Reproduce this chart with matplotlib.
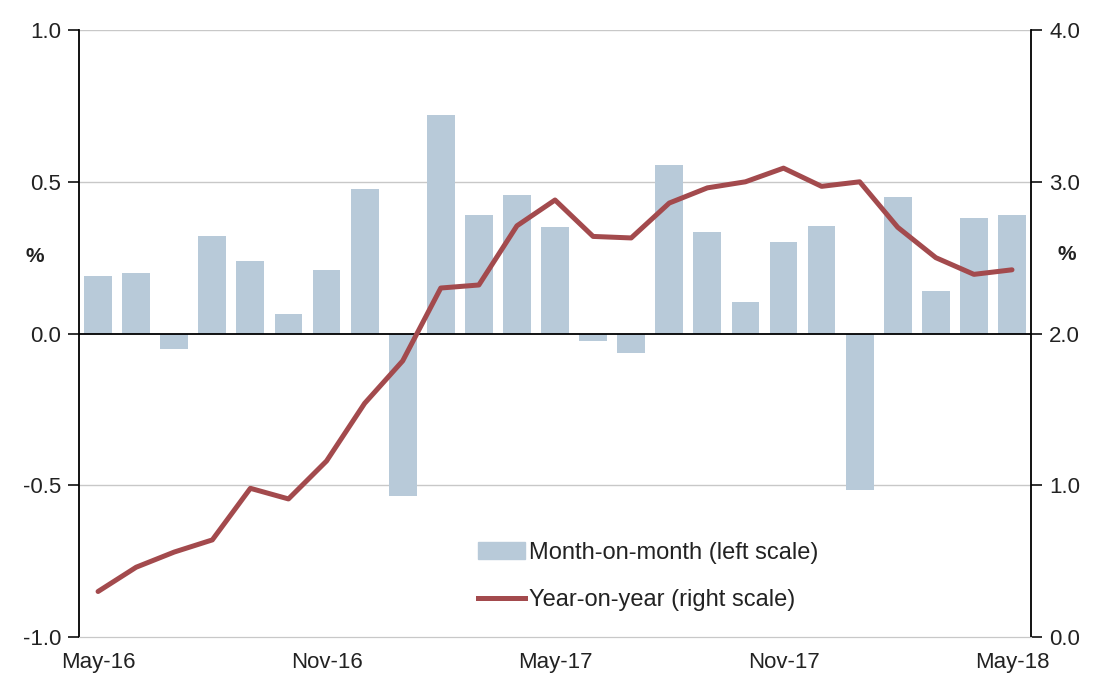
import numpy as np
import matplotlib.pyplot as plt
from matplotlib.patches import Patch
from matplotlib.lines import Line2D

plt.rcParams['font.family'] = ['Liberation Sans', 'DejaVu Sans']

months = ['May-16', 'Jun-16', 'Jul-16', 'Aug-16', 'Sep-16', 'Oct-16', 'Nov-16',
          'Dec-16', 'Jan-17', 'Feb-17', 'Mar-17', 'Apr-17', 'May-17', 'Jun-17',
          'Jul-17', 'Aug-17', 'Sep-17', 'Oct-17', 'Nov-17', 'Dec-17', 'Jan-18',
          'Feb-18', 'Mar-18', 'Apr-18', 'May-18']
mom = [0.19, 0.20, -0.05, 0.32, 0.24, 0.065, 0.21, 0.475, -0.535, 0.72, 0.39, 0.455,
       0.35, -0.025, -0.065, 0.555, 0.335, 0.105, 0.30, 0.355, -0.515, 0.45, 0.14,
       0.38, 0.39]
yoy = [0.30, 0.46, 0.56, 0.64, 0.98, 0.91, 1.16, 1.54, 1.82, 2.30, 2.32, 2.71, 2.88,
       2.64, 2.63, 2.86, 2.96, 3.00, 3.09, 2.97, 3.00, 2.70, 2.50, 2.39, 2.42]
tick_labels = ['May-16', 'Nov-16', 'May-17', 'Nov-17', 'May-18']

bar_col = '#b8cad9'
line_col = '#a34a4d'
grid_col = '#c8c8c8'
txt_col = '#222222'
fs = 16

fig = plt.figure(figsize=(10.93, 6.8), dpi=100)
ax = fig.add_axes([0.0723, 0.0632, 0.871, 0.8926])
ax2 = ax.twinx()

x = np.arange(len(months))
ax.bar(x, mom, width=0.73, color=bar_col, zorder=2)
ax.axhline(0, color='black', lw=1.3, zorder=3)
for v in [1.0, 0.5, -0.5]:
    ax.axhline(v, color=grid_col, lw=1, zorder=1)

ax2.plot(x, yoy, color=line_col, lw=3.6, solid_joinstyle='round',
         solid_capstyle='round', zorder=4)

ax.set_xlim(-0.5, len(months) - 0.5)
ax.set_ylim(-1.0, 1.0)
ax2.set_ylim(0.0, 4.0)
ax.set_yticks([-1.0, -0.5, 0.0, 0.5, 1.0])
ax.set_yticklabels(['-1.0', '-0.5', '0.0', '0.5', '1.0'])
ax2.set_yticks([0, 1, 2, 3, 4])
ax2.set_yticklabels(['0.0', '1.0', '2.0', '3.0', '4.0'])
ax.set_xticks([0, 6, 12, 18, 24])
ax.set_xticklabels(tick_labels)

for a in (ax, ax2):
    a.spines['top'].set_visible(False)
    a.spines['bottom'].set_color(grid_col)
    a.tick_params(labelsize=fs, colors=txt_col, length=8, width=1.3, pad=5)
ax.tick_params(axis='x', length=0, pad=11)
ax.spines['left'].set_linewidth(1.3)
ax2.spines['right'].set_linewidth(1.3)
ax2.spines['left'].set_visible(False)
ax.spines['right'].set_visible(False)

fig.text(35 / 1093, 1 - 257 / 680, '%', fontsize=15, fontweight='bold',
         ha='center', va='center', color=txt_col)
fig.text(1067 / 1093, 1 - 255 / 680, '%', fontsize=15, fontweight='bold',
         ha='center', va='center', color=txt_col)

handles = [Patch(color=bar_col), Line2D([0], [0], color=line_col, lw=3.6)]
fig.legend(handles, ['Month-on-month (left scale)', 'Year-on-year (right scale)'],
           loc='upper left', bbox_to_anchor=(478 / 1093, 1 - 542 / 680),
           frameon=False, fontsize=17, handlelength=2.0, handletextpad=0.15,
           labelspacing=1.05, borderpad=0, borderaxespad=0,
           labelcolor=txt_col)

fig.savefig('out.png', dpi=100)
